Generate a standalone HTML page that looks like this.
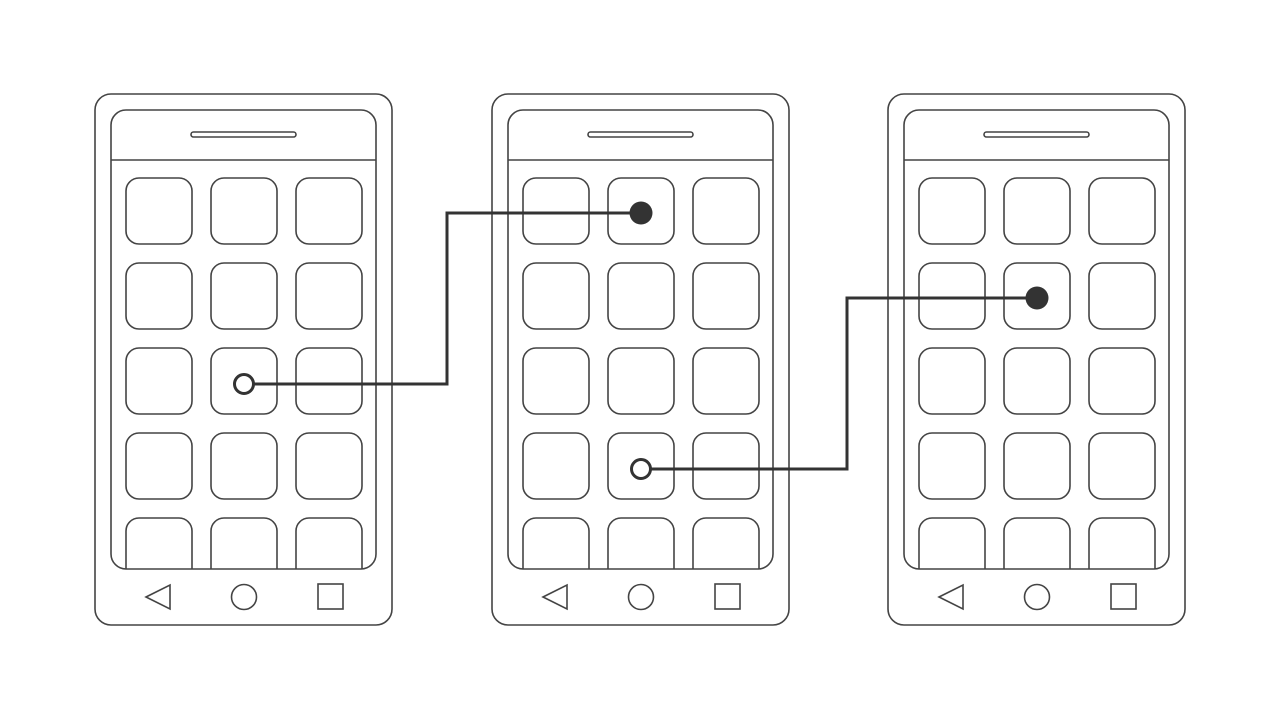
<!DOCTYPE html>
<html><head><meta charset="utf-8"><style>html,body{margin:0;padding:0;background:#fff;}svg{display:block}</style></head>
<body>
<svg width="1280" height="720" viewBox="0 0 1280 720" xmlns="http://www.w3.org/2000/svg">
<defs>
<clipPath id="scr"><rect x="111" y="110" width="265" height="459.5" rx="15"/></clipPath>
<g id="phone" fill="none" stroke="#444" stroke-width="1.6">
  <rect x="95" y="94" width="297" height="531" rx="16"/>
  <rect x="111" y="110" width="265" height="459" rx="15"/>
  <line x1="111" y1="160" x2="376" y2="160"/>
  <rect x="191" y="132" width="105" height="5" rx="2.5"/>
  <g clip-path="url(#scr)">
    <rect x="126" y="178" width="66" height="66" rx="13"/><rect x="211" y="178" width="66" height="66" rx="13"/><rect x="296" y="178" width="66" height="66" rx="13"/>
    <rect x="126" y="263" width="66" height="66" rx="13"/><rect x="211" y="263" width="66" height="66" rx="13"/><rect x="296" y="263" width="66" height="66" rx="13"/>
    <rect x="126" y="348" width="66" height="66" rx="13"/><rect x="211" y="348" width="66" height="66" rx="13"/><rect x="296" y="348" width="66" height="66" rx="13"/>
    <rect x="126" y="433" width="66" height="66" rx="13"/><rect x="211" y="433" width="66" height="66" rx="13"/><rect x="296" y="433" width="66" height="66" rx="13"/>
    <rect x="126" y="518" width="66" height="80" rx="13"/><rect x="211" y="518" width="66" height="80" rx="13"/><rect x="296" y="518" width="66" height="80" rx="13"/>
  </g>
  <polygon points="146,597 170,585 170,609"/>
  <circle cx="244" cy="597" r="12.5"/>
  <rect x="318" y="584" width="25" height="25"/>
</g>
</defs>
<use href="#phone"/>
<use href="#phone" transform="translate(397,0)"/>
<use href="#phone" transform="translate(793,0)"/>
<g stroke="#333" stroke-width="3" fill="none">
  <polyline points="253,384 447,384 447,213 641,213"/>
  <polyline points="650,469 847,469 847,298 1037,298"/>
</g>
<circle cx="244" cy="384" r="9.5" fill="#fff" stroke="#333" stroke-width="3"/>
<circle cx="641" cy="213" r="11.5" fill="#333"/>
<circle cx="641" cy="469" r="9.5" fill="#fff" stroke="#333" stroke-width="3"/>
<circle cx="1037" cy="298" r="11.5" fill="#333"/>
</svg>
</body></html>
